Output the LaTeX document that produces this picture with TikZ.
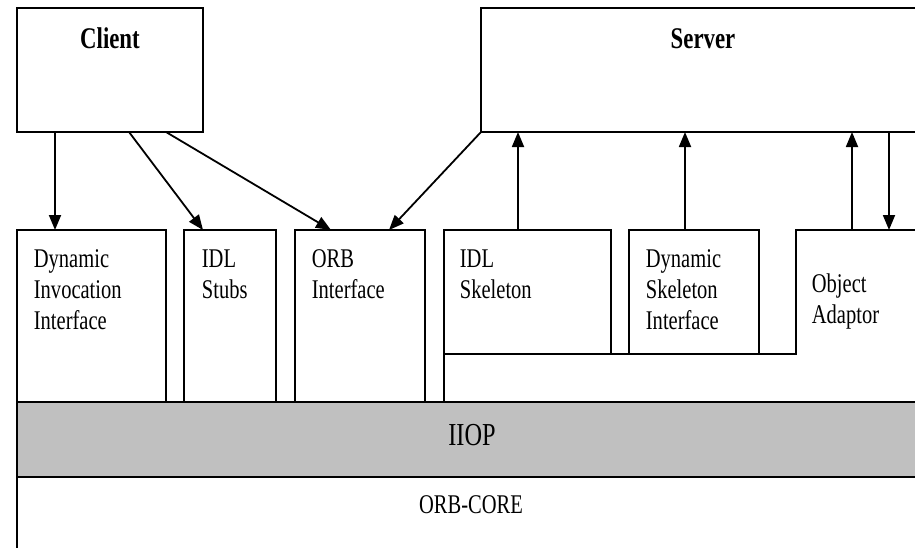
\documentclass[tikz,border=0pt]{standalone}
\usepackage{fontspec}
\setmainfont{Liberation Serif}[FakeStretch=0.76]
\usetikzlibrary{arrows.meta,calc}
\definecolor{bandgray}{HTML}{C0C0C0}
\begin{document}
\begin{tikzpicture}[x=1pt,y=-1pt,
  line width=1.8pt,
  box/.style={draw, inner sep=0pt, outer sep=0pt, anchor=north west},
  txt/.style={font=\fontsize{27}{31}\selectfont, inner sep=0pt, align=left, anchor=north west},
  title/.style={font=\fontsize{30}{34}\selectfont\bfseries, inner sep=0pt, anchor=base},
  arr/.style={-{Triangle[length=15pt,width=12pt]}, line width=1.8pt}]
\useasboundingbox (0,0) rectangle (915,547);
\clip (0,0) rectangle (915,547);

% upper components
\node[box, minimum width=186pt, minimum height=124pt] (client) at (17,8) {};
\node[box, minimum width=450pt, minimum height=124pt] (server) at (481,8) {};
\node[title] (clientlbl) at (110,48) {Client};
\node[title] (serverlbl) at (703,48) {Server};

% client-side interfaces
\node[box, minimum width=149pt, minimum height=172pt] (dii) at (17,230) {};
\node[box, minimum width=92pt, minimum height=172pt] (stubs) at (184,230) {};
\node[box, minimum width=130pt, minimum height=172pt] (orbi) at (295,230) {};

% server-side interfaces
\node[box, minimum width=167pt, minimum height=124pt] (idlskel) at (444,230) {};
\node[box, minimum width=130pt, minimum height=124pt] (dsi) at (629,230) {};
\coordinate (oa) at (796,230);
\draw (idlskel.south west) -- ++(0,48);
\draw (idlskel.south west) -- (oa |- idlskel.south) -- (oa) -- ++(140,0);

% IIOP band and ORB core
\node[box, fill=bandgray, minimum width=920pt, minimum height=75pt] (iiop) at (17,402) {};
\node[font=\fontsize{32}{36}\selectfont, inner sep=0pt, anchor=base] (iioplbl) at (472,445) {IIOP};
\draw (iiop.south west) -- ++(0,80);
\node[font=\fontsize{27}{31}\selectfont, inner sep=0pt, anchor=base] (corelbl) at (471,513) {ORB-CORE};

% box labels
\node[txt] (diilbl) at (33,249) {Dynamic\\Invocation\\Interface};
\node[txt] (stubslbl) at (201,249) {IDL\\Stubs};
\node[txt] (orbilbl) at (311,249) {ORB\\Interface};
\node[txt] (idlskellbl) at (459,249) {IDL\\Skeleton};
\node[txt] (dsilbl) at (645,249) {Dynamic\\Skeleton\\Interface};
\node[txt] (oalbl) at (811,272.5) {Object\\Adaptor};

% connectors
\draw[arr] ($(client.south west)+(38,0)$) -- ($(dii.north west)+(38,0)$);
\draw[arr] ($(client.south west)+(112,0)$) -- ($(stubs.north west)+(19,0)$);
\draw[arr] ($(client.south west)+(149,0)$) -- ($(orbi.north west)+(36,0)$);
\draw[arr] (server.south west) -- ($(orbi.north west)+(94,0)$);
\draw[arr] ($(idlskel.north west)+(74,0)$) -- ($(server.south west)+(37,0)$);
\draw[arr] ($(dsi.north west)+(56,0)$) -- ($(server.south west)+(204,0)$);
\draw[arr] ($(oa)+(56,0)$) -- ($(server.south west)+(371,0)$);
\draw[arr] ($(server.south west)+(408,0)$) -- ($(oa)+(93,0)$);
\end{tikzpicture}
\end{document}
